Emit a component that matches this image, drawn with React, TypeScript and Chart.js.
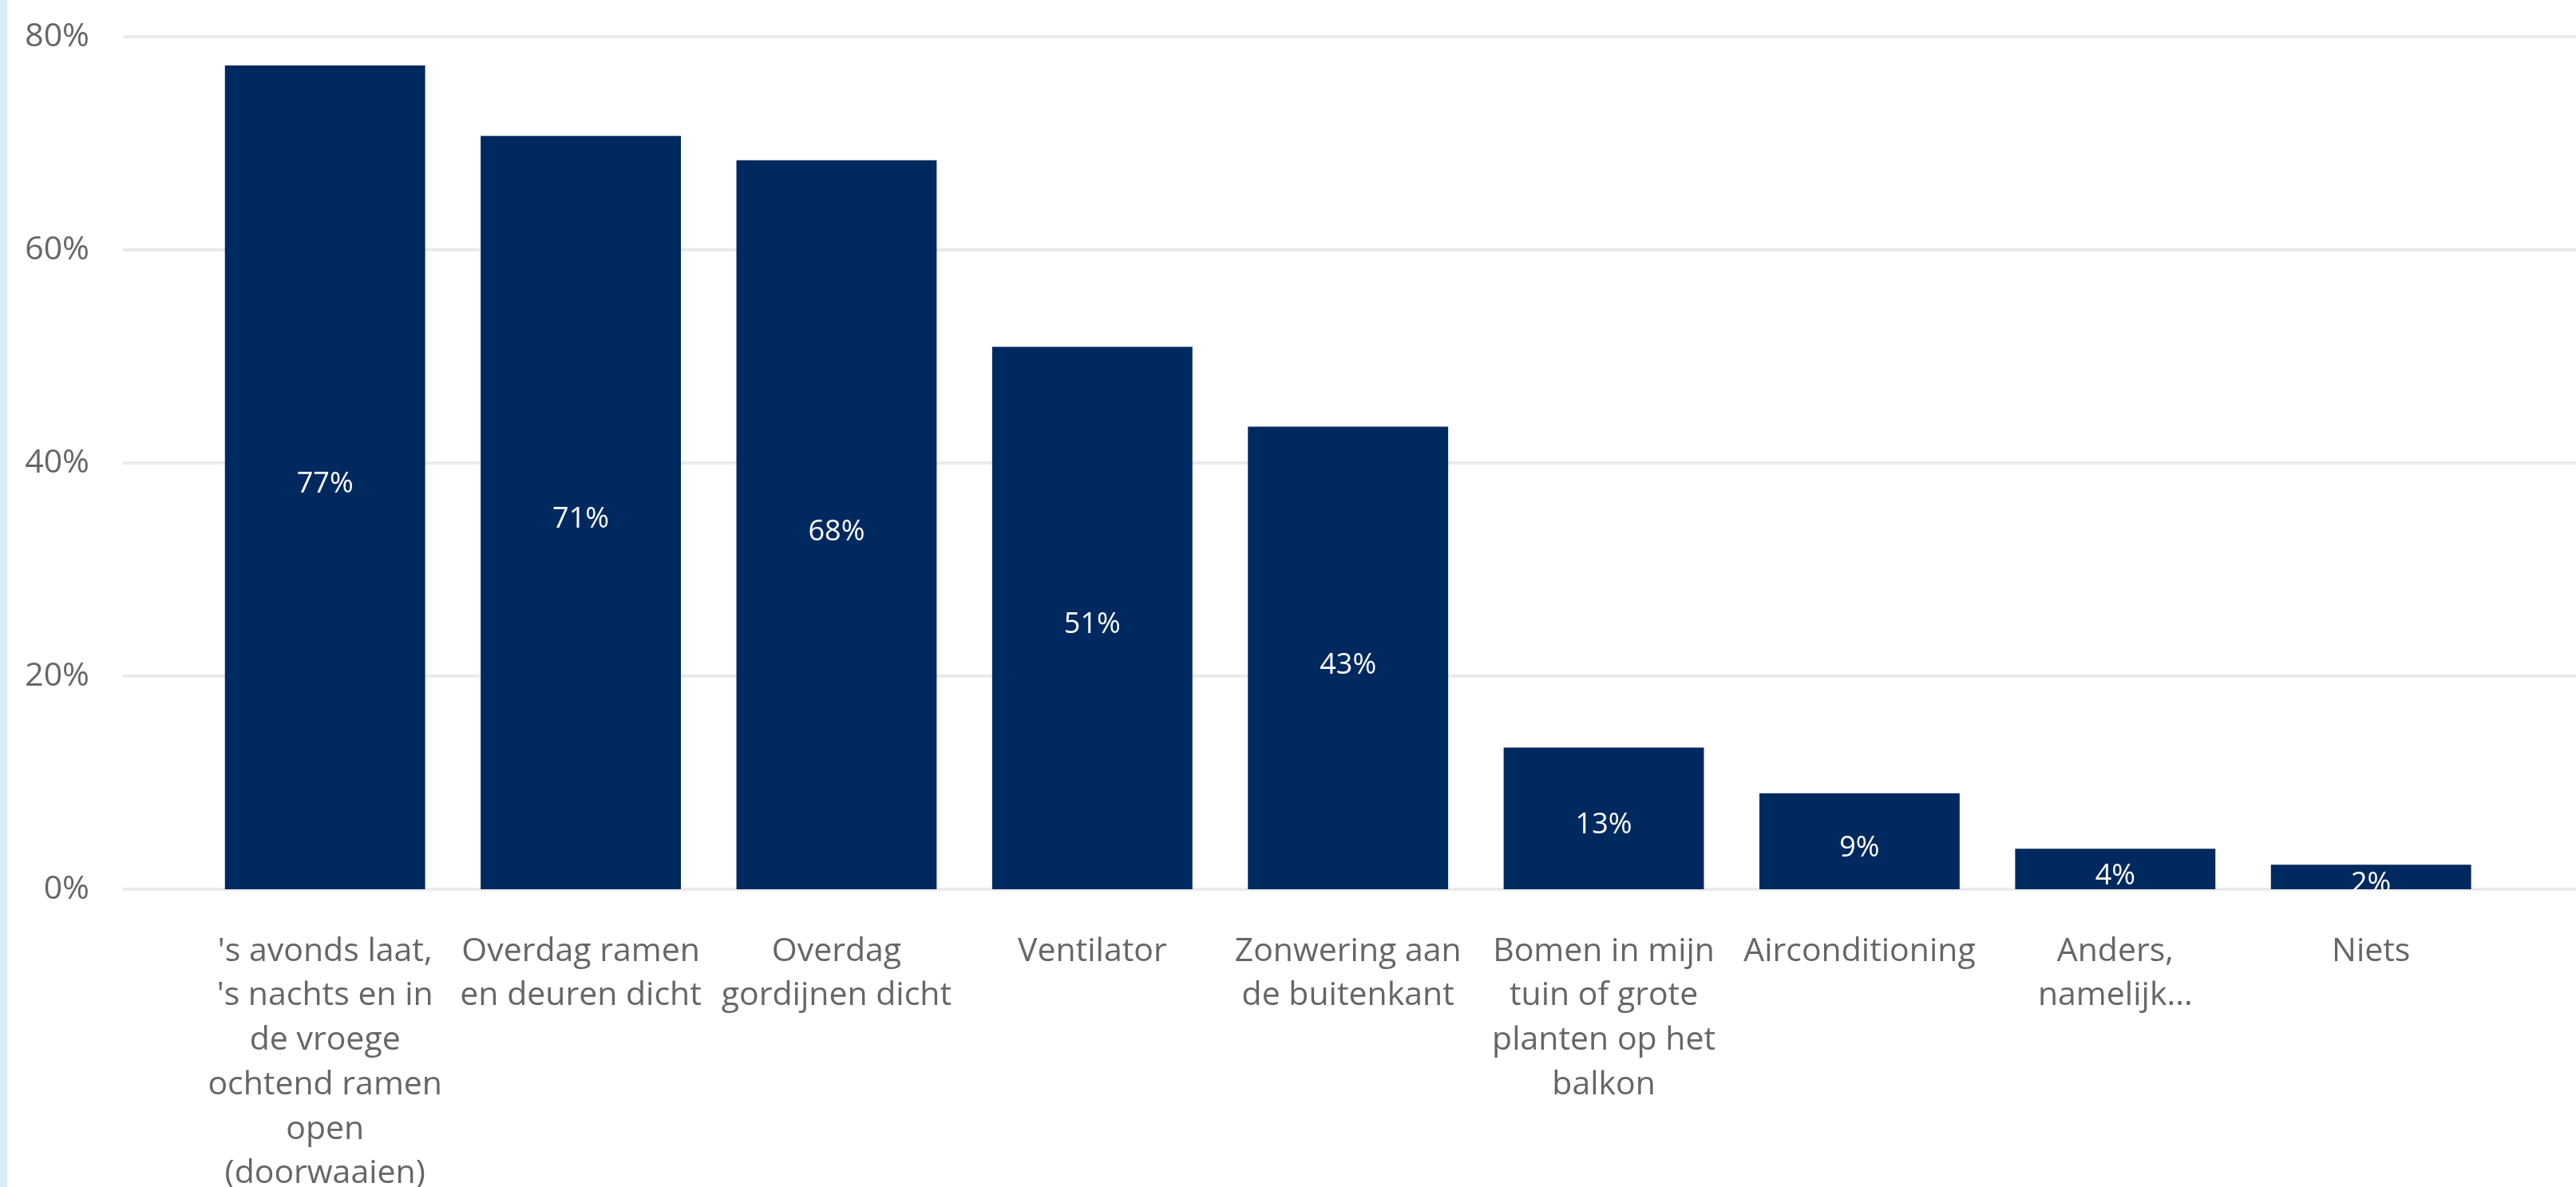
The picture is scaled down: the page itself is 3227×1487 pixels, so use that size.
import React, { useEffect, useRef } from 'react';
import { Chart, registerables } from 'chart.js';

Chart.register(...registerables);

const categories: string[][] = [
  ["'s avonds laat,", "'s nachts en in", 'de vroege', 'ochtend ramen', 'open', '(doorwaaien)'],
  ['Overdag ramen', 'en deuren dicht'],
  ['Overdag', 'gordijnen dicht'],
  ['Ventilator'],
  ['Zonwering aan', 'de buitenkant'],
  ['Bomen in mijn', 'tuin of grote', 'planten op het', 'balkon'],
  ['Airconditioning'],
  ['Anders,', 'namelijk...'],
  ['Niets'],
];

const values: number[] = [77.3, 70.7, 68.4, 50.9, 43.4, 13.3, 9.0, 3.8, 2.3];

const yTicks: number[] = [0, 20, 40, 60, 80];

const W = 3227;
const H = 1487;
const FONT = '"Open Sans", "Noto Sans", sans-serif';
const TEXT = '#666666';
const BAR = '#00295f';
const GRID = '#eaeaea';

export default function App() {
  const ref = useRef<HTMLCanvasElement>(null);

  useEffect(() => {
    if (!ref.current) return;

    const gridPlugin = {
      id: 'gridLines',
      beforeDatasetsDraw(chart: any) {
        const { ctx, chartArea } = chart;
        const y = chart.scales.y;
        ctx.save();
        ctx.strokeStyle = GRID;
        ctx.lineWidth = 4;
        yTicks.forEach((t) => {
          const py = y.getPixelForValue(t);
          ctx.beginPath();
          ctx.moveTo(chartArea.left - 93, py);
          ctx.lineTo(chart.width, py);
          ctx.stroke();
        });
        ctx.restore();
      },
    };

    const labelPlugin = {
      id: 'barLabels',
      afterDatasetsDraw(chart: any) {
        const { ctx, chartArea } = chart;
        const meta = chart.getDatasetMeta(0);
        ctx.save();
        ctx.beginPath();
        ctx.rect(chartArea.left, chartArea.top, chartArea.right - chartArea.left, chartArea.bottom - chartArea.top + 3);
        ctx.clip();
        ctx.fillStyle = '#ffffff';
        ctx.font = `36px ${FONT}`;
        ctx.textAlign = 'center';
        ctx.textBaseline = 'middle';
        meta.data.forEach((bar: any, i: number) => {
          const { x, y, base } = bar.getProps(['x', 'y', 'base'], true);
          ctx.fillText(Math.round(values[i]) + '%', x, (y + base) / 2 + 9);
        });
        ctx.restore();
      },
    };

    const chart = new Chart(ref.current, {
      type: 'bar',
      data: {
        labels: categories,
        datasets: [
          {
            data: values,
            backgroundColor: BAR,
            borderWidth: 0,
            barPercentage: 0.783,
            categoryPercentage: 1,
          },
        ],
      },
      options: {
        animation: false,
        responsive: false,
        devicePixelRatio: 1,
        layout: { padding: { top: 46, right: 96.6, left: 0, bottom: 0 } },
        plugins: {
          legend: { display: false },
          tooltip: { enabled: false },
        },
        scales: {
          x: {
            grid: { display: false, drawTicks: false },
            border: { display: false },
            ticks: {
              color: TEXT,
              font: { family: FONT, size: 41, lineHeight: 1.36 },
              padding: 50,
              maxRotation: 0,
              minRotation: 0,
              autoSkip: false,
            },
            afterFit: (s: any) => {
              s.height = H - 1114;
            },
          },
          y: {
            min: 0,
            max: 80,
            grid: { display: false, drawTicks: false },
            border: { display: false },
            ticks: {
              stepSize: 20,
              color: TEXT,
              font: { family: FONT, size: 41 },
              padding: 135,
              callback: (v: any) => v + '%',
            },
            afterFit: (s: any) => {
              s.width = 247;
              s.paddingTop = 0;
              s.paddingBottom = 0;
            },
          },
        },
      },
      plugins: [gridPlugin, labelPlugin],
    } as any);

    return () => chart.destroy();
  }, []);

  return (
    <div
      style={{
        position: 'fixed',
        left: 0,
        top: 0,
        width: W,
        height: H,
        overflow: 'hidden',
        background: '#ffffff',
      }}
    >
      <canvas
        ref={ref}
        width={W}
        height={H}
        style={{ position: 'absolute', left: 0, top: 0, width: W, height: H, display: 'block' }}
      />
      <div
        style={{
          position: 'absolute',
          left: 0,
          top: 0,
          width: 9,
          height: H,
          background: '#dcedf9',
        }}
      />
    </div>
  );
}
